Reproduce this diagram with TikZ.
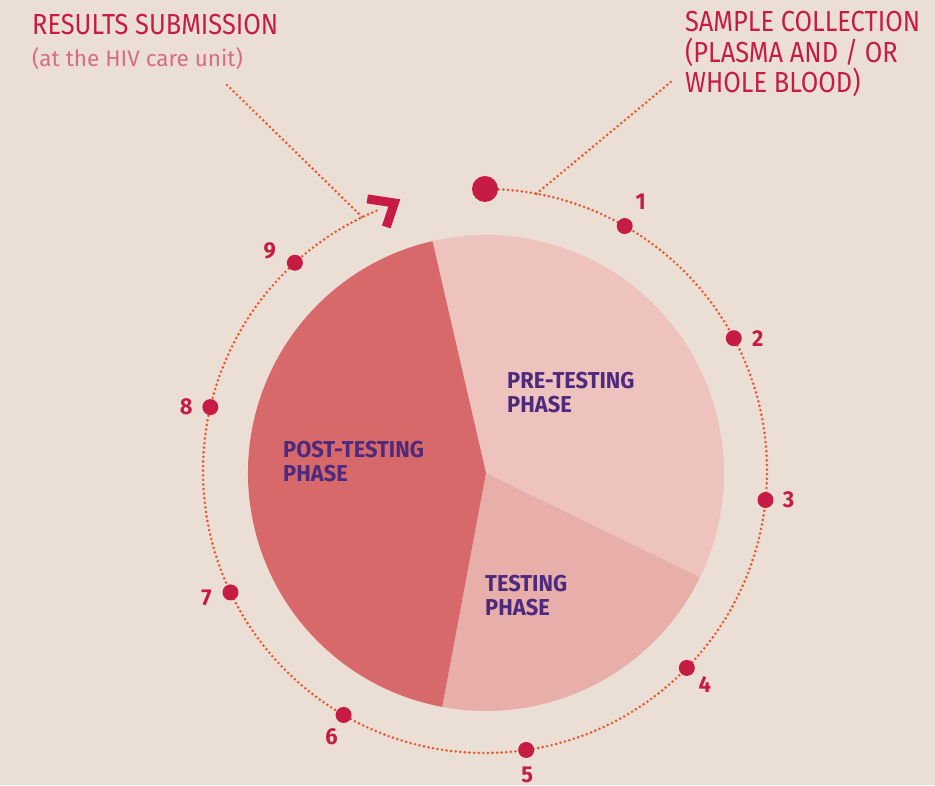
\documentclass[tikz,border=0pt]{standalone}
\usepackage{fontspec}
\setmainfont{Fira Sans}[FakeStretch=0.875]
\newfontfamily\phasefont{Fira Sans}[FakeStretch=0.95]
\newfontfamily\subfont{Fira Sans}
\usetikzlibrary{calc, positioning}
\definecolor{bgbeige}{HTML}{EBDFD5}
\definecolor{prepink}{HTML}{EEC3BD}
\definecolor{testpink}{HTML}{E8AEAA}
\definecolor{postred}{HTML}{D8696B}
\definecolor{dotred}{HTML}{C61C44}
\definecolor{ringorange}{HTML}{E8582B}
\definecolor{phasepurple}{HTML}{4E2A7E}
\definecolor{subpink}{HTML}{D66E82}
\tikzset{
    my-dot/.style={
        circle, fill=dotred, inner sep=0pt, minimum size=16pt
    },
    my-big-dot/.style={
        my-dot, minimum size=26pt
    },
    my-number/.style={
        font=\phasefont\fontsize{23}{23}\selectfont\bfseries, text=dotred, inner sep=0pt
    },
    my-phase/.style={
        font=\phasefont\fontsize{23}{24.5}\selectfont\bfseries, text=phasepurple, align=left, inner sep=0pt, anchor=base west
    },
    my-title/.style={
        font=\fontsize{29}{30.5}\selectfont, text=dotred, align=left, inner sep=0pt, anchor=base west
    },
    my-subtitle/.style={
        font=\subfont\fontsize{22.5}{22.5}\selectfont, text=subpink, inner sep=0pt, anchor=base west
    },
    my-ring/.style={
        draw=ringorange, line width=2.9pt, line cap=round, dash pattern=on 0pt off 4.6pt
    },
    my-tip/.style={
        draw=dotred, line width=9pt, line join=miter
    },
}

\begin{document}
\begin{tikzpicture}[x=1pt, y=1pt]

        % BACKGROUND
        \fill[bgbeige] (0,0) rectangle (935,785);
        \useasboundingbox (0,0) rectangle (935,785);

        % CENTERS
        \coordinate (C) at (485,314);
        \coordinate (P) at (486,312);

        % PIE
        \fill[prepink]  (P) -- ($(P) + (-26:238)$)   arc[start angle=-26,    end angle=103,   radius=238] -- cycle;
        \fill[testpink] (P) -- ($(P) + (-100.6:238)$) arc[start angle=-100.6, end angle=-26,   radius=238] -- cycle;
        \fill[postred]  (P) -- ($(P) + (103:238)$)   arc[start angle=103,    end angle=259.4, radius=238] -- cycle;

        % PHASES (BASELINE OF LAST LINE)
        \node[my-phase] (PRE)  at (507,372) {PRE-TESTING\\PHASE};
        \node[my-phase] (POST) at (283,303) {POST-TESTING\\PHASE};
        \node[my-phase] (TEST) at (485,169) {TESTING\\PHASE};

        % RING, RING POINTS
        \coordinate (RINGTOP) at ($(C) + (90:282)$);
        \coordinate (RINGSC)  at ($(C) + (79.5:282)$);
        \coordinate (RINGRS)  at ($(C) + (115.8:282)$);
        \coordinate (TIP)     at ($(C) + (108.7:283)$);
        \draw[my-ring] (RINGTOP) arc[start angle=90, end angle=-247.8, radius=282];
        \draw[my-tip] ($(TIP) + (-27,4)$) -- (TIP) -- ($(TIP) + (-8,-24)$);

        % TITLES
        \node[my-title]    (RS)    at (32,750)   {RESULTS SUBMISSION};
        \node[my-subtitle] (RSSUB) at (32,718.3) {(at the HIV care unit)};
        \node[my-title]    (SC)    at (685,692)  {SAMPLE COLLECTION\\(PLASMA AND / OR\\WHOLE BLOOD)};

        % LEADER CONNECTIONS
        \coordinate (RSLEAD) at (227,700);
        \coordinate (SCLEAD) at (672,704);
        \draw[my-ring] (RSLEAD) -- (RINGRS);
        \draw[my-ring] (RINGSC) -- (SCLEAD);

        % DOTS
        \node[my-big-dot] (D0) at (RINGTOP) {};
        \node[my-dot] (D1) at ($(C) + (60.3:282)$)   {};
        \node[my-dot] (D2) at ($(C) + (28.1:282)$)   {};
        \node[my-dot] (D3) at ($(C) + (-5.9:282)$)   {};
        \node[my-dot] (D4) at ($(C) + (-44.3:282)$)  {};
        \node[my-dot] (D5) at ($(C) + (-81.6:282)$)  {};
        \node[my-dot] (D6) at ($(C) + (-120.1:282)$) {};
        \node[my-dot] (D7) at ($(C) + (-154.5:282)$) {};
        \node[my-dot] (D8) at ($(C) + (166.9:282)$)  {};
        \node[my-dot] (D9) at ($(C) + (132.4:282)$)  {};

        % NUMBERS
        \node[my-number] (N1) at ($(D1) + (16,24)$)   {1};
        \node[my-number] (N2) at ($(D2) + (24,0)$)    {2};
        \node[my-number] (N3) at ($(D3) + (23,0)$)    {3};
        \node[my-number] (N4) at ($(D4) + (18,-17)$)  {4};
        \node[my-number] (N5) at ($(D5) + (1,-24.5)$) {5};
        \node[my-number] (N6) at ($(D6) + (-12,-22)$) {6};
        \node[my-number] (N7) at ($(D7) + (-24,-6)$)  {7};
        \node[my-number] (N8) at ($(D8) + (-24,0)$)   {8};
        \node[my-number] (N9) at ($(D9) + (-25,12)$)  {9};

    \end{tikzpicture}
\end{document}
